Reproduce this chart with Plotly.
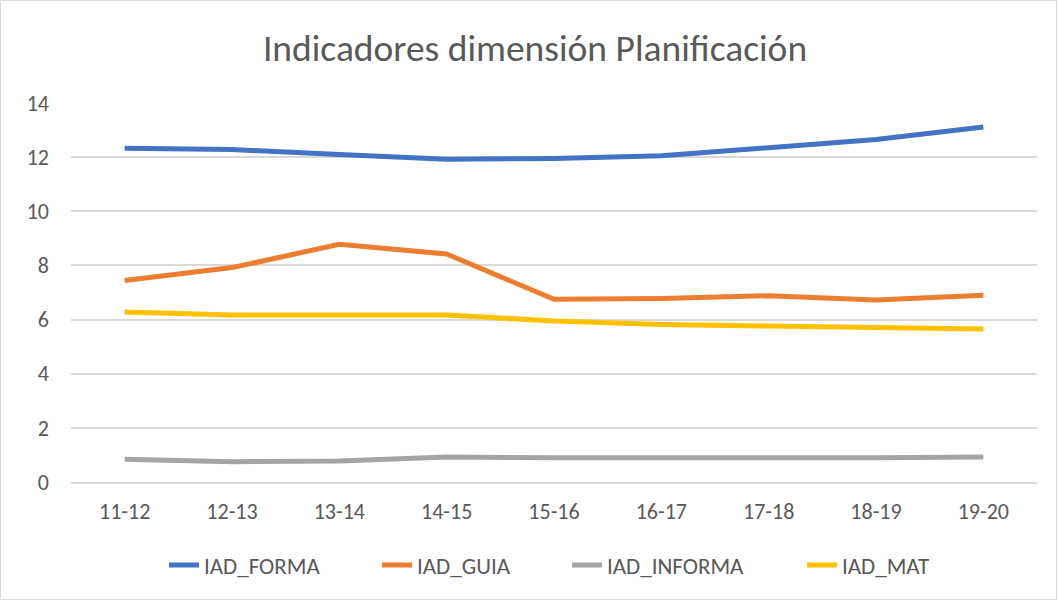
import plotly.graph_objects as go

categories = ["11-12", "12-13", "13-14", "14-15", "15-16", "16-17", "17-18", "18-19", "19-20"]
iad_forma = [12.33, 12.28, 12.10, 11.92, 11.95, 12.05, 12.35, 12.65, 13.11]
iad_guia = [7.44, 7.92, 8.78, 8.42, 6.75, 6.78, 6.88, 6.72, 6.90]
iad_informa = [0.84, 0.75, 0.78, 0.92, 0.90, 0.92, 0.90, 0.90, 0.92]
iad_mat = [6.28, 6.17, 6.17, 6.17, 5.95, 5.82, 5.76, 5.71, 5.65]

series = [
    ("IAD_FORMA", iad_forma, "#4472C4"),
    ("IAD_GUIA", iad_guia, "#ED7D31"),
    ("IAD_INFORMA", iad_informa, "#A5A5A5"),
    ("IAD_MAT", iad_mat, "#FFC000"),
]
legend_text_x = [205, 418, 608, 843]

FONT = "Calibri, Carlito, Lato, sans-serif"
W, H = 1058, 601
L, R, T, B = 71, 21, 103, 119
pw, ph = W - L - R, H - T - B

fig = go.Figure()
legend_layout = {}
for i, (name, vals, color) in enumerate(series):
    lname = "legend" if i == 0 else f"legend{i + 1}"
    fig.add_trace(go.Scatter(
        x=list(range(len(categories))), y=vals, name=name, mode="lines",
        line=dict(color=color, width=5), legend=lname,
    ))
    legend_layout[lname] = dict(
        orientation="h", x=(legend_text_x[i] - 41 - L) / pw, xanchor="left",
        y=(482 - 565) / ph, yanchor="middle", bgcolor="rgba(0,0,0,0)",
        font=dict(size=23, color="#595959"), itemwidth=30,
    )

fig.update_layout(
    width=W, height=H,
    margin=dict(l=L, r=R, t=T, b=B),
    paper_bgcolor="white", plot_bgcolor="white",
    font=dict(family=FONT, color="#595959", size=22),
    title=dict(text="Indicadores dimensión Planificación", x=(535 - L) / pw, xanchor="center",
               xref="paper",
               y=1 - 48 / H, yanchor="middle",
               font=dict(size=37.5, color="#595959", family=FONT)),
    xaxis=dict(tickmode="array", tickvals=list(range(len(categories))), ticktext=categories,
               range=[-0.5, len(categories) - 0.5], showgrid=False, zeroline=False,
               showline=True, linecolor="#D9D9D9", linewidth=1.5, ticks="",
               tickfont=dict(size=22, color="#595959"), ticklabelstandoff=9),
    yaxis=dict(range=[0, 14], dtick=2, showgrid=True, gridcolor="#D9D9D9", gridwidth=1.5,
               zeroline=False, showline=False, ticks="",
               tickfont=dict(size=22, color="#595959"), ticklabelstandoff=21),
    showlegend=True,
    **legend_layout,
)

fig.add_shape(type="rect", xref="paper", yref="paper",
              x0=-(L - 0.5) / pw, x1=1 + (R - 1.5) / pw,
              y0=-(B - 1.5) / ph, y1=1 + (T - 0.5) / ph,
              line=dict(color="#D9D9D9", width=1), layer="below")

fig.write_html("out.html", config={"displayModeBar": False},
               post_script="document.body.style.margin='0';document.body.style.padding='0';")
